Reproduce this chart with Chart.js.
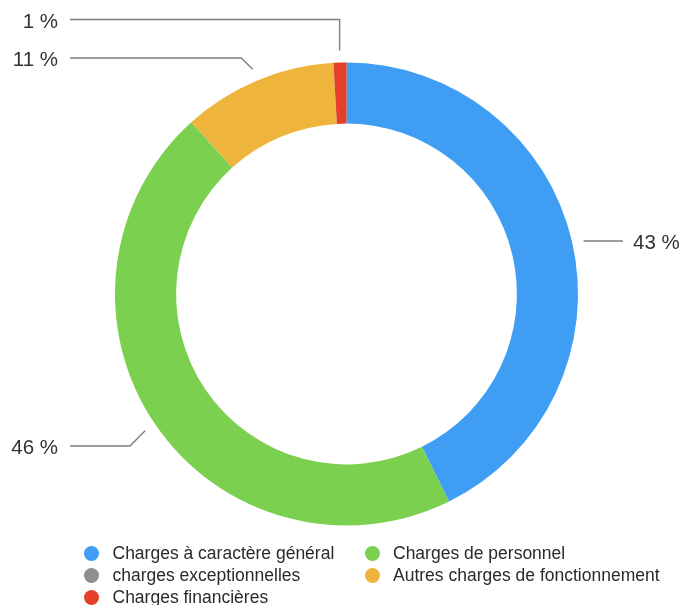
<!DOCTYPE html>
<html>
<head>
<meta charset="utf-8">
<script src="https://cdn.jsdelivr.net/npm/chart.js@4"></script>
<style>
    body { margin: 0; background: #fff; }
    #wrap { position: relative; width: 684px; height: 605px; }
    #legend { position: absolute; left: 0; top: 0; width: 684px; height: 605px; pointer-events: none;
              font-family: "Liberation Sans", Arial, sans-serif; font-size: 17.5px; color: #2a2a2a; }
    .item { position: absolute; height: 22px; line-height: 22px; white-space: nowrap; }
    .dot { position: absolute; width: 15px; height: 15px; border-radius: 50%; top: 3.5px; }
    .txt { position: absolute; left: 28.5px; }
</style>
</head>
<body>
<div id="wrap">
    <canvas id="chart-1" width="684" height="605"></canvas>
    <div id="legend"></div>
</div>
<script>
// repartition des charges
var labels = ["Charges à caractère général", "Charges de personnel", "charges exceptionnelles", "Autres charges de fonctionnement", "Charges financières"];
var valeurs = [42.7, 45.6, 0, 10.8, 0.9];
var couleurs = ["#3f9ef4", "#7bd050", "#8e8e8e", "#efb43c", "#e3412b"];

// ou placer les etiquettes (cote, hauteur de la ligne)
var etiquettes = [
    { side: "right", y: 241 },
    { side: "left", y: 446 },
    null,
    { side: "left", y: 58 },
    { side: "left", y: 19.5, vertical: true }
];

var labelPlugin = {
    id: "labelPlugin",
    afterDatasetsDraw: function (chart) {
        var ctx = chart.ctx;
        var meta = chart.getDatasetMeta(0);
        var total = valeurs.reduce(function (a, b) { return a + b; }, 0);
        ctx.save();
        ctx.strokeStyle = "#7e7e7e";
        ctx.lineWidth = 1.4;
        ctx.fillStyle = "#333333";
        ctx.font = "20.5px 'Liberation Sans', Arial, sans-serif";
        ctx.textBaseline = "middle";
        meta.data.forEach(function (arc, i) {
            var cfg = etiquettes[i];
            if (!cfg || valeurs[i] <= 0) return;
            var p = arc.getProps(["x", "y", "startAngle", "endAngle", "outerRadius"], true);
            var mid = (p.startAngle + p.endAngle) / 2;
            var r = p.outerRadius + 12;
            var ax = p.x + Math.cos(mid) * r;
            var ay = p.y + Math.sin(mid) * r;
            var ex, ey = cfg.y;
            if (Math.abs(cfg.y - ay) < 4) {
                ay = cfg.y;
            }
            if (cfg.vertical) {
                ex = ax;
            } else {
                var d = Math.abs(cfg.y - ay);
                ex = cfg.side == "left" ? ax - d : ax + d;
            }
            var endX = cfg.side == "left" ? 70 : 623;
            ctx.beginPath();
            ctx.moveTo(ax, ay);
            ctx.lineTo(ex, ey);
            ctx.lineTo(endX, ey);
            ctx.stroke();

            var txt = Math.round(valeurs[i] / total * 100) + " %";
            if (cfg.side == "left") {
                ctx.textAlign = "right";
                ctx.fillText(txt, 58, ey + 2.5);
            } else {
                ctx.textAlign = "left";
                ctx.fillText(txt, 633, ey + 2.5);
            }
        });
        ctx.restore();
    }
};

var ctx = document.getElementById("chart-1").getContext("2d");
var chart_charges = new Chart(ctx, {
    type: "doughnut",
    data: {
        labels: labels,
        datasets: [{
            data: valeurs,
            backgroundColor: couleurs,
            borderWidth: 0
        }]
    },
    options: {
        responsive: false,
        animation: false,
        devicePixelRatio: 1,
        cutout: "73.6%",
        layout: {
            padding: { top: 62.5, bottom: 79.5, left: 115, right: 106 }
        },
        plugins: {
            legend: { display: false },
            tooltip: { enabled: false }
        }
    },
    plugins: [labelPlugin]
});

// legende en deux colonnes
var legend = document.getElementById("legend");
var colX = [84, 364.5];
var rowY = [542, 564, 586];
labels.forEach(function (lab, i) {
    var item = document.createElement("div");
    item.className = "item";
    item.style.left = colX[i % 2] + "px";
    item.style.top = rowY[Math.floor(i / 2)] + "px";
    var dot = document.createElement("span");
    dot.className = "dot";
    dot.style.background = couleurs[i];
    var t = document.createElement("span");
    t.className = "txt";
    t.textContent = lab;
    item.appendChild(dot);
    item.appendChild(t);
    legend.appendChild(item);
});
</script>
</body>
</html>
